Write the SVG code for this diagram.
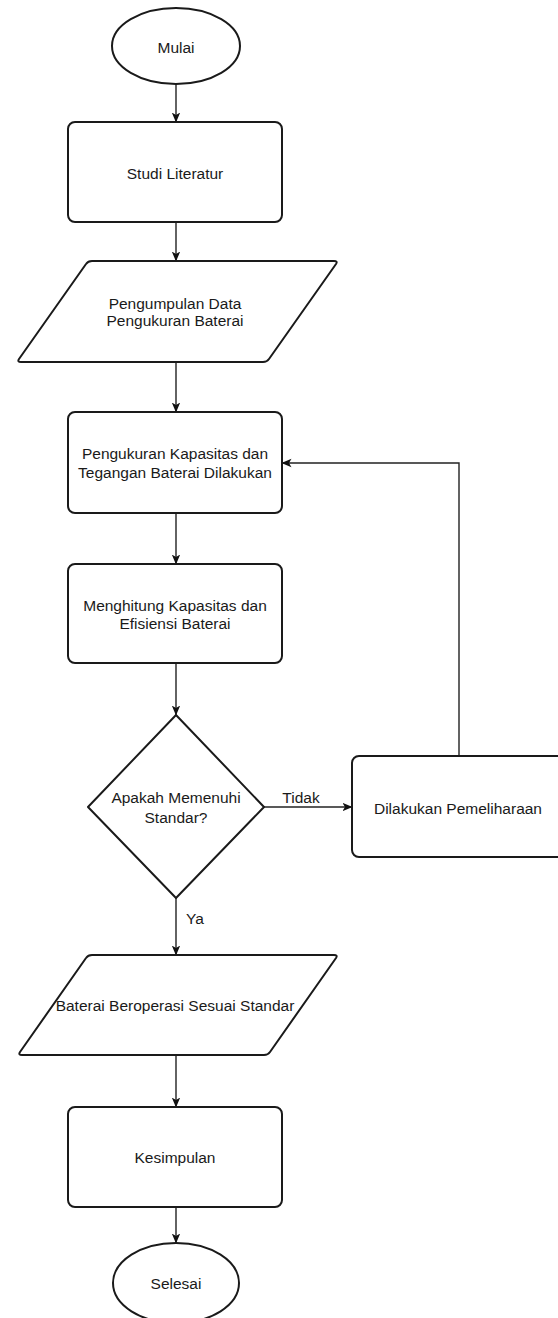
<svg xmlns="http://www.w3.org/2000/svg" width="558" height="1318" viewBox="0 0 558 1318">
<style>
.s{fill:#fff;stroke:#1a1a1a;stroke-width:2;stroke-linejoin:round}
.c{fill:none;stroke:#222;stroke-width:1.4}
text{font-family:"Liberation Sans",Arial,sans-serif;font-size:15.5px;fill:#1a1a1a;text-anchor:middle}
.l{text-anchor:start}
</style>
<defs>
<marker id="a" viewBox="0 0 10 10" refX="9.5" refY="5" markerWidth="10" markerHeight="10" markerUnits="userSpaceOnUse" orient="auto">
<path d="M0,0.8 L10,5 L0,9.2 L2.5,5 Z" fill="#111"/>
</marker>
</defs>
<rect width="558" height="1318" fill="#fff"/>
<g id="connectors">
<path class="c" d="M176,84 V122" marker-end="url(#a)"/>
<path class="c" d="M176,222 V261" marker-end="url(#a)"/>
<path class="c" d="M176,362 V412" marker-end="url(#a)"/>
<path class="c" d="M176,513 V564" marker-end="url(#a)"/>
<path class="c" d="M176,663 V715" marker-end="url(#a)"/>
<path class="c" d="M264,807 H352" marker-end="url(#a)"/>
<path class="c" d="M459,756 V463 H282" marker-end="url(#a)"/>
<path class="c" d="M176,898 V955" marker-end="url(#a)"/>
<path class="c" d="M176,1055 V1107" marker-end="url(#a)"/>
<path class="c" d="M176,1207 V1243" marker-end="url(#a)"/>
<text x="301" y="802.5">Tidak</text>
<text class="l" x="186" y="923.5">Ya</text>
</g>
<g id="mulai">
<ellipse class="s" cx="176" cy="46" rx="64" ry="38"/>
<text x="176" y="53">Mulai</text>
</g>
<g id="studi">
<rect class="s" x="68" y="122" width="214" height="100" rx="7"/>
<text x="175" y="178.5">Studi Literatur</text>
</g>
<g id="pengumpulan">
<path class="s" d="M92,261 H334 Q338,261 336,264 L269,359 Q267,362 263,362 H21 Q17,362 19,359 L86,264 Q88,261 92,261 Z"/>
<text x="175" y="308.5">Pengumpulan Data</text>
<text x="175" y="326">Pengukuran Baterai</text>
</g>
<g id="pengukuran">
<rect class="s" x="68" y="412" width="214" height="101" rx="7"/>
<text x="175" y="458.5">Pengukuran Kapasitas dan</text>
<text x="175" y="477.5">Tegangan Baterai Dilakukan</text>
</g>
<g id="menghitung">
<rect class="s" x="68" y="564" width="214" height="99" rx="7"/>
<text x="175" y="610.5">Menghitung Kapasitas dan</text>
<text x="175" y="628.5">Efisiensi Baterai</text>
</g>
<g id="keputusan">
<path class="s" d="M176,715 L264,807 L176,898 L88,807 Z"/>
<text x="176" y="802.5">Apakah Memenuhi</text>
<text x="176" y="822.5">Standar?</text>
</g>
<g id="pemeliharaan">
<rect class="s" x="352" y="756" width="220" height="101" rx="7"/>
<text x="458" y="813.5">Dilakukan Pemeliharaan</text>
</g>
<g id="beroperasi">
<path class="s" d="M92,955 H334 Q338,955 336,958 L270,1052 Q268,1055 264,1055 H22 Q18,1055 20,1052 L86,958 Q88,955 92,955 Z"/>
<text x="175" y="1010.5">Baterai Beroperasi Sesuai Standar</text>
</g>
<g id="kesimpulan">
<rect class="s" x="68" y="1107" width="214" height="100" rx="7"/>
<text x="175" y="1162.5">Kesimpulan</text>
</g>
<g id="selesai">
<ellipse class="s" cx="176" cy="1283" rx="63" ry="40"/>
<text x="176" y="1288.5">Selesai</text>
</g>
</svg>
